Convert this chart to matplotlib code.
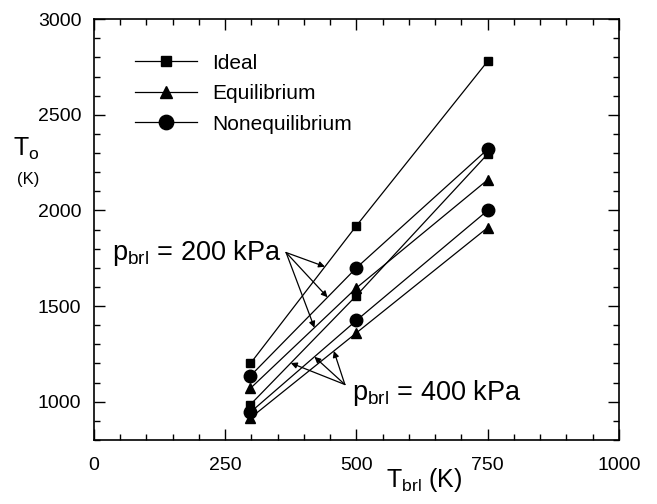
import numpy as np
import matplotlib
matplotlib.use("Agg")
import matplotlib.pyplot as plt
from matplotlib.ticker import MultipleLocator

plt.rcParams['font.family'] = ['Liberation Sans', 'DejaVu Sans']
plt.rcParams['mathtext.fontset'] = 'custom'
plt.rcParams['mathtext.rm'] = 'Liberation Sans'

# Barrel temperature (K)
T_brl = [298, 500, 750]

# Stagnation temperature T_o (K) for p_brl = 200 kPa and 400 kPa
ideal_200 = [1200, 1920, 2780]
ideal_400 = [985, 1555, 2295]
equil_200 = [1070, 1595, 2160]
equil_400 = [915, 1360, 1910]
noneq_200 = [1135, 1700, 2320]
noneq_400 = [945, 1425, 2000]

x_ticks = [0, 250, 500, 750, 1000]
y_ticks = [1000, 1500, 2000, 2500, 3000]

fig = plt.figure(figsize=(6.57, 5.04), dpi=100)
ax = fig.add_axes([0.143, 0.127, 0.799, 0.835])

lw = 0.9
line_kw = dict(color='black', lw=lw)
sq = dict(marker='s', ms=6, mfc='black', mec='black')
tri = dict(marker='^', ms=7.5, mfc='black', mec='black')
cir = dict(marker='o', ms=9, mfc='black', mec='black')

ax.plot(T_brl, ideal_200, **line_kw, **sq, label='Ideal')
ax.plot(T_brl, ideal_400, **line_kw, **sq)
ax.plot(T_brl, equil_200, **line_kw, **tri, label='Equilibrium')
ax.plot(T_brl, equil_400, **line_kw, **tri)
ax.plot(T_brl, noneq_200, **line_kw, **cir, label='Nonequilibrium')
ax.plot(T_brl, noneq_400, **line_kw, **cir)

ax.set_xlim(0, 1000)
ax.set_ylim(800, 3000)
ax.set_xticks(x_ticks)
ax.set_yticks(y_ticks)
ax.xaxis.set_minor_locator(MultipleLocator(50))
ax.yaxis.set_minor_locator(MultipleLocator(100))
ax.tick_params(which='both', direction='in', top=True, right=True, width=1)
ax.tick_params(which='major', length=8)
ax.tick_params(which='minor', length=4)
ax.tick_params(axis='x', which='major', labelsize=14, pad=12)
ax.tick_params(axis='y', which='major', labelsize=14, pad=9)
for s in ax.spines.values():
    s.set_linewidth(1.2)

leg = ax.legend(loc='upper left', bbox_to_anchor=(0.078, 0.918), frameon=False,
                fontsize=15, handlelength=3.0, handletextpad=0.7,
                labelspacing=0.55, borderpad=0, borderaxespad=0,
                markerscale=1.15)

# Axis titles
fig.text(0.020, 0.705, r'T$_\mathregular{o}$', fontsize=18, ha='left', va='center')
fig.text(0.026, 0.643, '(K)', fontsize=12, ha='left', va='center')
fig.text(0.645, 0.02, r'T$_\mathregular{brl}$ (K)', fontsize=18, ha='center', va='bottom')

# Pressure call-outs with arrows pointing at their curves
arrow_kw = dict(arrowstyle='-|>', lw=0.9, color='black', mutation_scale=9,
                shrinkA=0, shrinkB=0)

ax.text(358, 1778, r'$\mathregular{p_{brl}}$ = 200 kPa', fontsize=19.5,
        ha='right', va='center')
tail_200 = (366, 1780)
for series, xh in [(ideal_200, 440), (noneq_200, 445), (equil_200, 420)]:
    ax.annotate('', xy=(xh, np.interp(xh, T_brl, series)), xytext=tail_200,
                arrowprops=arrow_kw)

ax.text(492, 1045, r'$\mathregular{p_{brl}}$ = 400 kPa', fontsize=19.5,
        ha='left', va='center')
tail_400 = (478, 1090)
for series, xh in [(ideal_400, 375), (noneq_400, 420), (equil_400, 457)]:
    ax.annotate('', xy=(xh, np.interp(xh, T_brl, series)), xytext=tail_400,
                arrowprops=arrow_kw)

fig.savefig('out.png', dpi=100)
